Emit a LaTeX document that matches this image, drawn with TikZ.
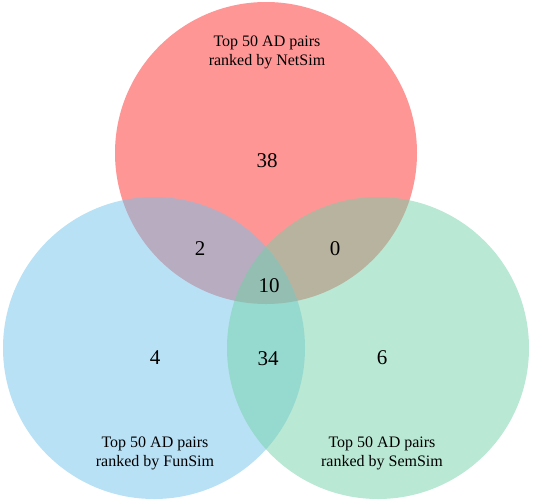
\documentclass[tikz,border=0pt]{standalone}
\usepackage{fontspec}
\setmainfont{Liberation Serif}
\usepackage{tikz}
\usetikzlibrary{positioning}
\definecolor{netred}{RGB}{255,45,45}
\definecolor{funblue}{RGB}{115,195,235}
\definecolor{semgreen}{RGB}{115,209,169}
\tikzset{set/.style={circle, draw=none, inner sep=0, minimum size=302pt, fill opacity=.5}}
\tikzset{setname/.style={align=center, font=\fontsize{16}{19}\selectfont}}
\tikzset{count/.style={font=\fontsize{21}{25}\selectfont}}

\begin{document}
\begin{tikzpicture}[x=1pt, y=-1pt]
  \useasboundingbox (0,0) rectangle (533,501);

  % ---- the three sets
  \node[set, fill=netred]   at (266,153) (net) {};
  \node[set, fill=funblue]  at (154,348) (fun) {};
  \node[set, fill=semgreen] at (378,348) (sem) {};

  % ---- set names
  \node[setname] at (267, 52) (netname) {Top 50 AD pairs\\ranked by NetSim};
  \node[setname] at (155,453) (funname) {Top 50 AD pairs\\ranked by FunSim};
  \node[setname] at (382,453) (semname) {Top 50 AD pairs\\ranked by SemSim};

  % ---- region counts
  \node[count] at (267,161) (onlynet) {38};
  \node[count] at (200,249) (netfun)  {2};
  \node[count] at (335,249) (netsem)  {0};
  \node[count] at (269,286) (all)     {10};
  \node[count] at (155,358) (onlyfun) {4};
  \node[count] at (268,359) (funsem)  {34};
  \node[count] at (382,358) (onlysem) {6};

\end{tikzpicture}
\end{document}
